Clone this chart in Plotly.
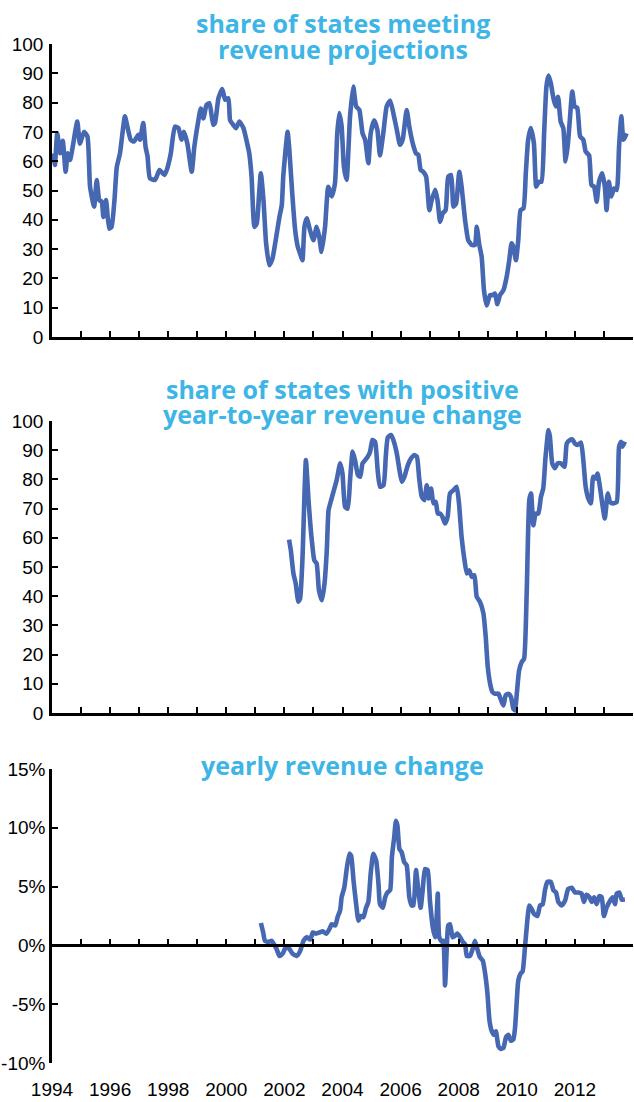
import plotly.graph_objects as go

# ---------------- data ----------------
meet_years = [1994.05,1994.10,1994.18,1994.28,1994.37,1994.47,1994.54,1994.62,1994.87,1994.96,
 1995.10,1995.22,1995.31,1995.45,1995.54,1995.63,1995.71,1995.77,1995.86,1995.97,
 1996.05,1996.15,1996.23,1996.34,1996.51,1996.59,1996.71,1996.82,1996.97,1997.03,
 1997.14,1997.22,1997.29,1997.37,1997.55,1997.70,1997.87,1997.97,1998.09,1998.23,
 1998.35,1998.46,1998.54,1998.66,1998.81,1998.90,1999.04,1999.12,1999.21,1999.32,
 1999.42,1999.55,1999.61,1999.73,1999.86,1999.96,2000.07,2000.13,2000.24,2000.33,
 2000.45,2000.59,2000.72,2000.79,2000.87,2000.97,2001.05,2001.13,2001.19,2001.28,
 2001.37,2001.48,2001.59,2001.70,2001.83,2001.91,2001.96,2002.04,2002.11,2002.17,
 2002.27,2002.37,2002.46,2002.54,2002.62,2002.69,2002.77,2002.88,2003.00,2003.11,
 2003.20,2003.28,2003.40,2003.51,2003.63,2003.74,2003.82,2003.89,2003.97,2004.05,
 2004.14,2004.26,2004.37,2004.47,2004.58,2004.69,2004.78,2004.89,2004.97,2005.09,
 2005.20,2005.29,2005.41,2005.52,2005.64,2005.75,2005.87,2005.98,2006.07,2006.21,
 2006.30,2006.42,2006.53,2006.61,2006.69,2006.78,2006.88,2006.99,2007.07,2007.19,
 2007.27,2007.36,2007.45,2007.55,2007.64,2007.74,2007.82,2007.91,2008.02,2008.10,
 2008.22,2008.33,2008.45,2008.56,2008.62,2008.71,2008.79,2008.87,2008.96,2009.08,
 2009.17,2009.25,2009.33,2009.42,2009.54,2009.65,2009.74,2009.82,2009.88,2009.97,
 2010.05,2010.13,2010.23,2010.31,2010.39,2010.48,2010.59,2010.67,2010.76,2010.85,
 2010.94,2011.02,2011.09,2011.17,2011.26,2011.34,2011.42,2011.51,2011.60,2011.68,
 2011.76,2011.83,2011.91,2011.99,2012.08,2012.18,2012.29,2012.37,2012.49,2012.57,
 2012.66,2012.75,2012.83,2012.94,2013.03,2013.09,2013.17,2013.25,2013.35,2013.44,
 2013.52,2013.60,2013.67,2013.78]
meet_share = [62.7,58.7,69.5,62.7,67.0,56.4,62.7,60.4,73.5,66.0,
 70.0,68.4,51.3,44.5,53.6,46.7,46.2,41.0,46.7,37.0,
 37.6,46.7,58.0,62.7,75.3,72.0,67.3,66.7,69.0,67.3,
 73.0,65.0,61.6,54.2,53.6,57.0,55.3,57.6,62.7,71.8,
 71.3,67.3,70.0,66.0,56.4,65.0,74.0,78.0,74.6,79.2,
 79.8,72.4,73.0,81.5,84.6,81.0,81.5,74.0,72.4,71.3,
 73.5,71.3,66.0,62.7,54.7,37.6,38.8,49.0,55.9,46.7,
 32.0,24.5,26.8,33.0,41.0,45.0,54.7,63.9,70.0,63.9,
 49.0,36.5,30.8,28.5,26.2,37.6,40.5,36.5,33.0,37.6,
 34.2,29.0,37.6,51.3,48.0,52.4,69.5,76.4,71.8,58.0,
 53.6,75.3,85.5,78.7,77.5,69.5,67.3,59.3,69.5,74.0,
 70.7,62.0,70.0,78.7,80.7,76.4,70.7,65.6,67.3,77.5,
 71.8,66.0,62.7,62.2,57.0,56.4,54.7,43.3,46.7,50.2,
 46.7,39.3,42.2,43.3,54.7,55.3,44.5,45.6,56.4,51.3,
 39.9,33.0,31.4,31.4,37.6,31.4,27.4,16.0,10.8,14.3,
 14.3,14.8,11.2,14.3,16.0,20.5,26.2,32.0,30.8,26.2,
 33.0,43.3,43.9,55.9,67.3,71.3,66.0,51.3,53.0,53.0,
 69.5,85.5,89.2,86.7,81.5,78.7,82.0,73.5,71.3,59.9,
 66.0,74.7,83.8,78.7,78.2,68.4,67.3,63.3,62.0,51.9,
 51.3,46.2,53.0,55.9,51.3,43.3,53.0,48.0,50.7,50.2,
 65.0,75.3,67.3,69.5]

pos_years = [2002.16,2002.22,2002.31,2002.39,2002.48,2002.54,2002.62,2002.74,2002.83,2002.92,
 2003.03,2003.11,2003.19,2003.29,2003.38,2003.46,2003.52,2003.61,2003.69,2003.80,
 2003.92,2004.00,2004.09,2004.18,2004.26,2004.35,2004.43,2004.53,2004.61,2004.69,
 2004.78,2004.87,2004.95,2005.03,2005.12,2005.21,2005.29,2005.41,2005.49,2005.56,
 2005.67,2005.75,2005.87,2005.96,2006.04,2006.13,2006.25,2006.36,2006.47,2006.56,
 2006.64,2006.73,2006.82,2006.90,2006.96,2007.05,2007.13,2007.21,2007.28,2007.36,
 2007.44,2007.53,2007.62,2007.70,2007.82,2007.93,2008.01,2008.10,2008.20,2008.28,
 2008.36,2008.45,2008.54,2008.62,2008.73,2008.85,2008.93,2009.00,2009.08,2009.16,
 2009.25,2009.37,2009.46,2009.54,2009.62,2009.71,2009.80,2009.88,2009.94,2010.00,
 2010.08,2010.17,2010.25,2010.34,2010.43,2010.49,2010.57,2010.65,2010.74,2010.83,
 2010.91,2010.99,2011.09,2011.14,2011.22,2011.31,2011.41,2011.52,2011.64,2011.72,
 2011.83,2011.91,2012.00,2012.09,2012.21,2012.29,2012.37,2012.46,2012.55,2012.63,
 2012.71,2012.78,2012.86,2012.94,2013.03,2013.13,2013.21,2013.32,2013.44,2013.52,
 2013.59,2013.64,2013.72]
pos_share = [59.4,55.8,47.8,44.3,38.1,39.2,52.3,86.6,72.9,61.5,
 52.3,51.2,42.0,38.6,44.3,55.8,69.5,72.9,75.8,79.8,
 85.5,82.0,70.6,70.0,79.8,89.5,86.6,81.5,80.9,85.5,
 86.6,87.8,89.5,93.5,92.9,83.2,77.5,78.0,87.8,94.4,
 95.2,93.5,88.9,83.2,79.2,80.9,84.9,87.2,88.3,87.8,
 80.3,74.0,72.9,78.0,73.5,76.9,71.8,72.3,68.3,68.3,
 67.2,64.9,67.2,75.2,76.3,77.5,71.8,60.3,52.3,47.8,
 48.9,46.6,47.2,39.8,38.1,34.1,26.1,15.8,10.1,7.2,
 6.6,6.6,4.3,2.6,6.1,6.6,5.5,1.5,0.9,6.6,
 14.6,17.5,18.6,40.9,72.9,75.2,64.3,68.3,68.3,74.0,
 76.9,87.8,96.9,94.6,85.5,83.8,85.5,85.5,84.3,92.3,
 93.5,93.7,92.3,91.8,92.6,86.6,77.5,73.5,71.8,80.9,
 80.3,82.0,77.5,71.8,66.6,75.2,72.3,71.8,72.3,91.2,
 92.9,91.2,92.9]

chg_years = [2001.19,2001.27,2001.33,2001.45,2001.56,2001.64,2001.73,2001.83,2001.94,2002.06,
 2002.17,2002.28,2002.42,2002.54,2002.66,2002.77,2002.89,2002.98,2003.09,2003.21,
 2003.32,2003.44,2003.55,2003.63,2003.75,2003.83,2003.92,2003.97,2004.06,2004.15,
 2004.24,2004.30,2004.38,2004.47,2004.55,2004.63,2004.72,2004.81,2004.89,2004.97,
 2005.06,2005.16,2005.24,2005.29,2005.39,2005.47,2005.55,2005.64,2005.70,2005.78,
 2005.84,2005.89,2005.96,2006.04,2006.12,2006.21,2006.30,2006.38,2006.44,2006.53,
 2006.61,2006.69,2006.76,2006.84,2006.93,2007.01,2007.11,2007.19,2007.24,2007.28,
 2007.33,2007.42,2007.47,2007.53,2007.59,2007.64,2007.70,2007.79,2007.87,2007.95,
 2008.05,2008.14,2008.22,2008.28,2008.39,2008.48,2008.56,2008.64,2008.73,2008.83,
 2008.91,2008.99,2009.06,2009.14,2009.22,2009.28,2009.37,2009.45,2009.54,2009.63,
 2009.71,2009.79,2009.88,2009.94,2010.00,2010.05,2010.13,2010.20,2010.28,2010.34,
 2010.43,2010.51,2010.59,2010.71,2010.80,2010.89,2010.97,2011.05,2011.17,2011.26,
 2011.35,2011.43,2011.54,2011.66,2011.77,2011.89,2012.00,2012.12,2012.23,2012.31,
 2012.40,2012.50,2012.58,2012.66,2012.75,2012.84,2012.92,2013.00,2013.09,2013.21,
 2013.30,2013.38,2013.44,2013.53,2013.61,2013.72]
chg_pct = [1.9,1.1,0.4,0.3,0.4,0.1,-0.3,-0.9,-0.7,-0.1,
 -0.3,-0.7,-0.9,-0.5,0.4,0.7,0.5,1.1,1.0,1.1,
 1.2,1.0,1.4,1.8,1.7,2.4,3.0,4.1,4.9,6.6,
 7.8,7.6,5.5,3.5,2.1,2.5,2.4,3.2,3.7,6.1,
 7.8,7.2,5.2,3.5,3.2,4.1,4.5,4.7,7.5,9.2,
 10.6,10.2,8.2,7.9,7.1,6.8,4.1,3.4,3.4,6.4,
 4.7,3.2,4.7,6.5,6.4,3.8,1.5,0.7,2.4,4.4,
 0.7,0.3,0.4,-3.4,-0.2,1.7,1.8,0.7,0.8,1.0,
 0.7,0.3,0.1,-0.9,-0.9,-0.3,0.4,-0.3,-1.0,-1.3,
 -2.4,-4.1,-6.4,-7.3,-7.6,-7.3,-8.6,-8.8,-8.7,-7.8,
 -7.6,-8.1,-8.0,-7.0,-4.7,-3.0,-2.4,-2.2,-0.2,1.5,
 3.4,3.1,2.7,2.5,3.4,3.5,4.7,5.4,5.4,4.7,
 4.5,3.7,3.4,3.8,4.8,4.9,4.5,4.5,4.4,3.7,
 4.3,4.1,3.7,4.1,3.5,4.2,4.1,2.5,3.2,3.8,
 4.1,3.5,4.4,4.5,3.9,3.9]

year_labels = ["1994","1996","1998","2000","2002","2004","2006","2008","2010","2012"]
label_years = [1994, 1996, 1998, 2000, 2002, 2004, 2006, 2008, 2010, 2012]
share_ticks = [0, 10, 20, 30, 40, 50, 60, 70, 80, 90, 100]
pct_ticks = [-10, -5, 0, 5, 10, 15]
pct_labels = ["-10%", "-5%", "0%", "5%", "10%", "15%"]

titles = [["share of states meeting", "revenue projections"],
          ["share of states with positive", "year-to-year revenue change"],
          ["yearly revenue change"]]

# ---------------- style ----------------
W, H = 634, 1102
ML, MR, MT, MB = 52, 1, 44, 39
LINE = "#4667B1"
TITLE = "#3DB5E6"
TICKFONT = dict(family="Liberation Sans Narrow, Arial Narrow, Liberation Sans, sans-serif", size=19, color="black")
TITLEFONT = dict(family="Open Sans", size=25, color=TITLE, weight="bold")

plot_h = H - MT - MB
def py(px):
    return (H - MB - px) / plot_h

dom1 = [py(337), 1.0]
dom2 = [py(713), py(421)]
dom3 = [0.0, py(769)]

fig = go.Figure()
line = dict(color=LINE, width=4.6, shape="spline", smoothing=0.5)
fig.add_trace(go.Scatter(x=meet_years, y=meet_share, mode="lines", line=line, xaxis="x", yaxis="y"))
fig.add_trace(go.Scatter(x=pos_years, y=pos_share, mode="lines", line=line, xaxis="x2", yaxis="y2"))
fig.add_trace(go.Scatter(x=chg_years, y=chg_pct, mode="lines", line=line, xaxis="x3", yaxis="y3"))
fig.add_trace(go.Scatter(x=[1994, 2014], y=[None, None], mode="lines", xaxis="x4", yaxis="y3",
                         hoverinfo="skip", showlegend=False))

axline = dict(showline=True, linecolor="black", linewidth=2.5, ticks="inside", ticklen=6,
              tickwidth=2, tickcolor="black", showgrid=False, zeroline=False, automargin=False)
xcommon = dict(range=[1994, 2014], tickmode="linear", tick0=1994, dtick=1, showticklabels=False, **axline)

layout = dict(
    width=W, height=H, margin=dict(l=ML, r=MR, t=MT, b=MB, autoexpand=False),
    paper_bgcolor="white", plot_bgcolor="white", showlegend=False,
    xaxis=dict(domain=[0, 1], anchor="y", **xcommon),
    yaxis=dict(domain=dom1, anchor="x", range=[0, 100], tickvals=share_ticks,
               tickfont=TICKFONT, ticklabelstandoff=2, **axline),
    xaxis2=dict(domain=[0, 1], anchor="y2", **xcommon),
    yaxis2=dict(domain=dom2, anchor="x2", range=[0, 100], tickvals=share_ticks,
                tickfont=TICKFONT, ticklabelstandoff=2, **axline),
    xaxis3=dict(domain=[0, 1], anchor="y3", range=[1994, 2014], tickvals=label_years,
                ticktext=year_labels, ticks="", showline=False, showgrid=False, zeroline=False,
                tickfont=TICKFONT, ticklabelstandoff=13, automargin=False),
    xaxis4=dict(overlaying="x3", anchor="free", position=dom3[1] * (0 - (-10)) / 25.0,
                **xcommon),
    yaxis3=dict(domain=dom3, anchor="x3", range=[-10, 15], tickvals=pct_ticks, ticktext=pct_labels,
                tickfont=TICKFONT, ticklabelstandoff=0, **axline),
)
fig.update_layout(**layout)

title_rows = [(titles[0][0], 23), (titles[0][1], 49),
              (titles[1][0], 389), (titles[1][1], 414),
              (titles[2][0], 765)]
for text, ypx in title_rows:
    fig.add_annotation(text=text, xref="paper", yref="paper", x=0.5, y=py(ypx),
                       xanchor="center", yanchor="middle", showarrow=False, font=TITLEFONT)

fig.write_html("out.html", config={"displayModeBar": False},
               post_script="document.body.style.margin='0';document.body.style.overflow='hidden';")
